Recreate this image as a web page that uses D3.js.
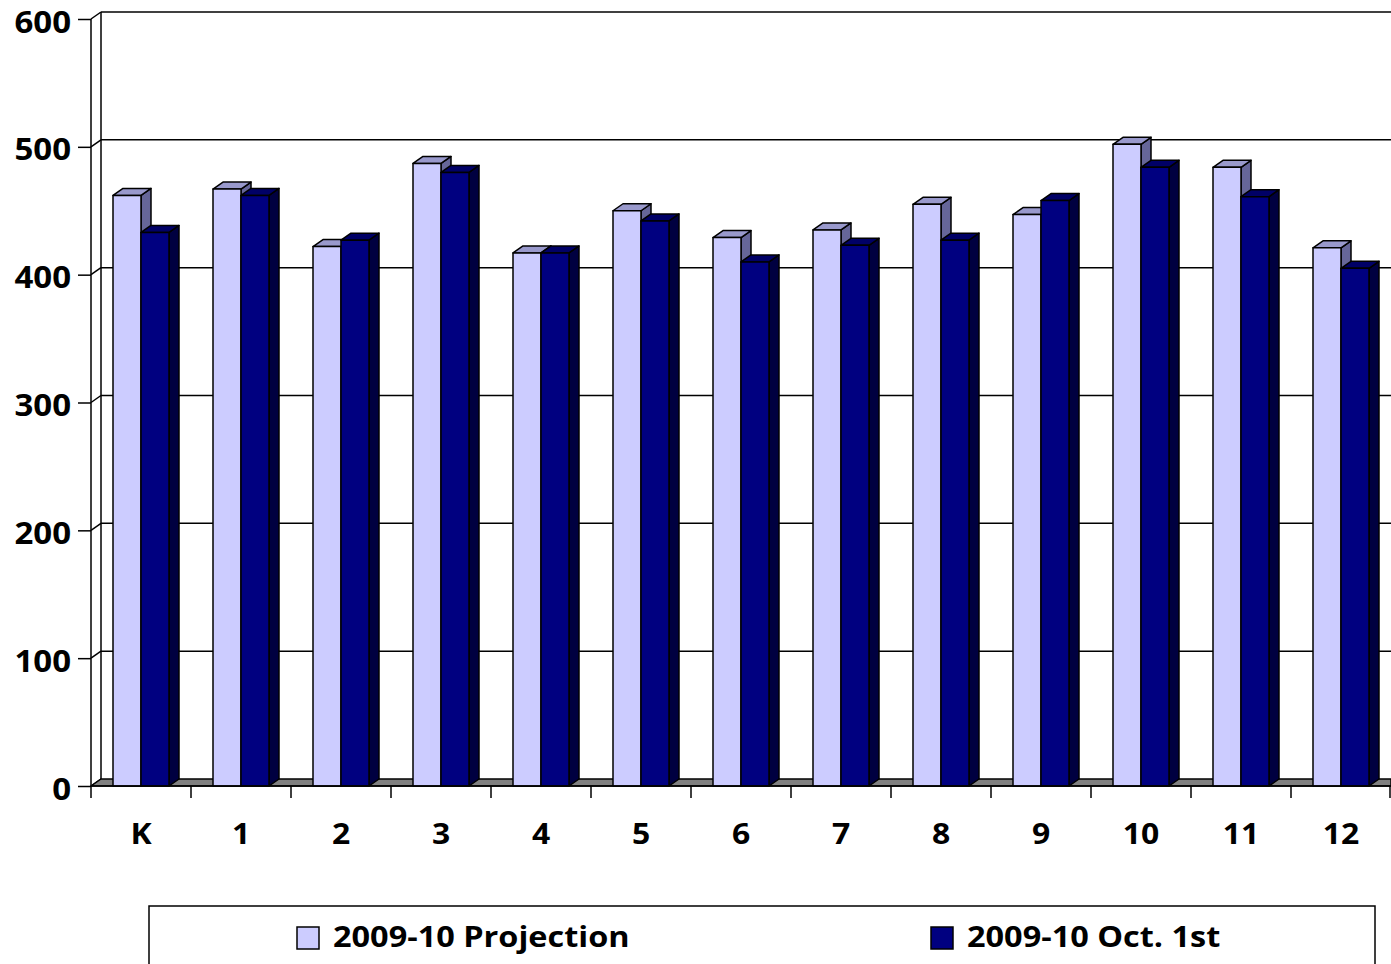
<!DOCTYPE html>
<html><head><meta charset="utf-8">
<script src="https://cdn.jsdelivr.net/npm/d3@7"></script>
<style>html,body{margin:0;padding:0;background:#fff;}svg{display:block;}</style>
</head><body>
<svg id="c" width="1391" height="964"></svg>
<script>
const categories = ["K","1","2","3","4","5","6","7","8","9","10","11","12"];
const seriesNames = ["2009-10 Projection","2009-10 Oct. 1st"];
const projection = [462,467,422,487,417,450,429,435,455,447,502,484,421];
const oct1st = [433,462,427,480,417,442,410,423,427,458,484,461,405];
const yTicks = [0,100,200,300,400,500,600];

const faceColors = [
  {front:"#CCCCFF", top:"#9999CC", side:"#666699"},
  {front:"#000080", top:"#000066", side:"#000040"}
];
const font = "'Open Sans', sans-serif";
const D = {dx:10, dy:-7};
const SX = 1.1;

const svg = d3.select("#c");
const x = d3.scaleBand().domain(categories).range([91,1391]).padding(0);
const inner = d3.scaleBand().domain([0,1]).range([22,78]).padding(0);
const y = d3.scaleLinear().domain([0,600]).range([786,19]);
const y0 = y(0);

// back wall gridlines
svg.append("g").selectAll("line").data(yTicks.filter(d=>d>0)).join("line")
  .attr("x1",91+D.dx).attr("x2",1391).attr("y1",d=>y(d)+D.dy).attr("y2",d=>y(d)+D.dy)
  .attr("stroke","#000").attr("stroke-width",1.5);
// diagonal connectors from front axis to back wall
svg.append("g").selectAll("line").data(yTicks).join("line")
  .attr("x1",91).attr("y1",d=>y(d)).attr("x2",91+D.dx).attr("y2",d=>y(d)+D.dy)
  .attr("stroke","#000").attr("stroke-width",1.5);
// back wall left edge
svg.append("line").attr("x1",91+D.dx).attr("x2",91+D.dx).attr("y1",y(600)+D.dy).attr("y2",y0+D.dy)
  .attr("stroke","#000").attr("stroke-width",1.5);

// floor
svg.append("path")
  .attr("d",`M91,${y0}L${91+D.dx},${y0+D.dy}L1391,${y0+D.dy}L1391,${y0}Z`)
  .attr("fill","#808080").attr("stroke","#000").attr("stroke-width",1.5);

// bars
const data = categories.map((c,i)=>({c, vals:[projection[i], oct1st[i]]}));
const gBars = svg.append("g");
data.forEach(d=>{
  d.vals.forEach((v,s)=>{
    const bx = x(d.c)+inner(s), w = inner.bandwidth(), yt = y(v);
    const col = faceColors[s];
    const g = gBars.append("g").attr("stroke","#000").attr("stroke-width",1.5).attr("stroke-linejoin","round");
    g.append("path").attr("d",`M${bx+w},${yt}L${bx+w+D.dx},${yt+D.dy}L${bx+w+D.dx},${y0+D.dy}L${bx+w},${y0}Z`).attr("fill",col.side);
    g.append("path").attr("d",`M${bx},${yt}L${bx+D.dx},${yt+D.dy}L${bx+w+D.dx},${yt+D.dy}L${bx+w},${yt}Z`).attr("fill",col.top);
    g.append("rect").attr("x",bx).attr("y",yt).attr("width",w).attr("height",y0-yt).attr("fill",col.front);
  });
});

// front axes
svg.append("line").attr("x1",91).attr("x2",91).attr("y1",y(600)).attr("y2",y0).attr("stroke","#000").attr("stroke-width",1.5);
svg.append("line").attr("x1",91).attr("x2",1391).attr("y1",y0).attr("y2",y0).attr("stroke","#000").attr("stroke-width",1.5);

const yAxis = d3.axisLeft(y).tickValues(yTicks).tickSize(13).tickPadding(6).tickFormat(d3.format("d"));
const gy = svg.append("g").attr("transform","translate(91,0)").call(yAxis);
gy.select(".domain").remove();
gy.selectAll("line").attr("stroke","#000").attr("stroke-width",1.5);
gy.selectAll("text").attr("x",0).attr("dy",null).attr("y",0)
  .attr("transform",`translate(-20,13) scale(${SX},1)`)
  .attr("font-family",font).attr("font-weight","bold").attr("font-size",30).attr("fill","#000");

const xTickPos = categories.map(c=>x(c)).concat([1390]);
svg.append("g").selectAll("line").data(xTickPos).join("line")
  .attr("x1",d=>d).attr("x2",d=>d).attr("y1",y0).attr("y2",y0+12)
  .attr("stroke","#000").attr("stroke-width",1.5);
svg.append("g").selectAll("text").data(categories).join("text")
  .attr("transform",d=>`translate(${x(d)+x.bandwidth()/2},844) scale(${SX},1)`)
  .attr("text-anchor","middle").attr("font-family",font).attr("font-weight","bold").attr("font-size",29)
  .text(d=>d);

// legend
const lg = svg.append("g");
lg.append("rect").attr("x",149).attr("y",906).attr("width",1226).attr("height",80)
  .attr("fill","#fff").attr("stroke","#000").attr("stroke-width",1.5);
const legX = [297, 931];
seriesNames.forEach((n,i)=>{
  lg.append("rect").attr("x",legX[i]).attr("y",927).attr("width",22).attr("height",22)
    .attr("fill",faceColors[i].front).attr("stroke","#000").attr("stroke-width",1.5);
  lg.append("text").attr("transform",`translate(${legX[i]+36},947) scale(1.12,1)`)
    .attr("font-family",font).attr("font-weight","bold").attr("font-size",29).text(n);
});
</script>
</body></html>
